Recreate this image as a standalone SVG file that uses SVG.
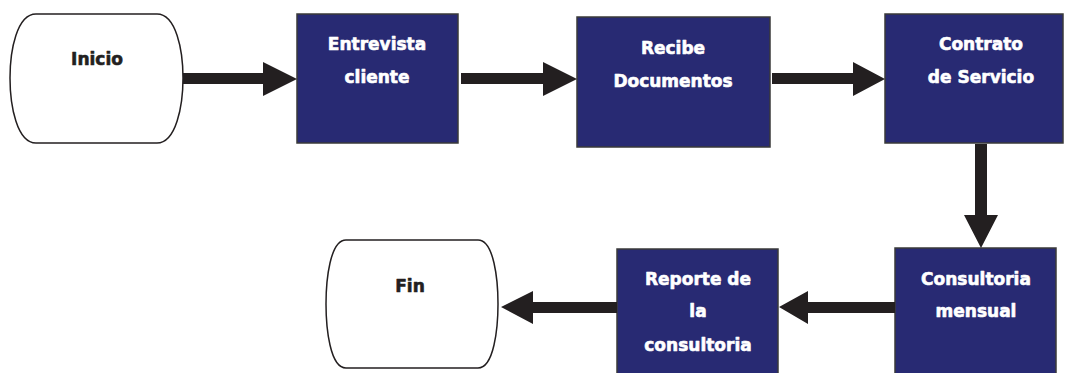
<svg xmlns="http://www.w3.org/2000/svg" width="1065" height="373" viewBox="0 0 1065 373">
<style>
.box{fill:#282a73;stroke:#3a3a3a;stroke-width:1.5}
.term{fill:#fff;stroke:#231f20;stroke-width:1.5}
.arr{fill:#231f20}
text{font-family:"DejaVu Sans","Liberation Sans",sans-serif;font-weight:bold;font-size:17px;text-anchor:middle;stroke-width:0.6;stroke-linejoin:round}
.w{fill:#fff;stroke:#fff}
.k{fill:#231f20;stroke:#231f20}
</style>
<rect width="1065" height="373" fill="#fff"/>
<g id="inicio">
<path class="term" d="M36,14 L157,14 C176,14 183,50 183,78 C183,106 176,143 157,143 L36,143 C17,143 10,106 10,78 C10,50 17,14 36,14 Z"/>
<text class="k" x="97" y="65">Inicio</text>
</g>
<g id="entrevista">
<rect class="box" x="297" y="14" width="161" height="129"/>
<text class="w" x="377" y="50">Entrevista</text>
<text class="w" x="377" y="83">cliente</text>
</g>
<g id="recibe">
<rect class="box" x="577" y="17" width="193" height="130"/>
<text class="w" x="673" y="54">Recibe</text>
<text class="w" x="673" y="87">Documentos</text>
</g>
<g id="contrato">
<rect class="box" x="885" y="14" width="178" height="129"/>
<text class="w" x="981" y="50">Contrato</text>
<text class="w" x="981" y="83">de Servicio</text>
</g>
<g id="consultoria">
<rect class="box" x="895" y="248" width="161" height="135"/>
<text class="w" x="976" y="285">Consultoria</text>
<text class="w" x="976" y="317">mensual</text>
</g>
<g id="reporte">
<rect class="box" x="617" y="249" width="161" height="134"/>
<text class="w" x="698" y="285">Reporte de</text>
<text class="w" x="698" y="317">la</text>
<text class="w" x="698" y="351">consultoria</text>
</g>
<g id="fin">
<path class="term" d="M346,240 L478,240 C494,240 498,280 498,304 C498,328 494,368 478,368 L346,368 C330,368 326,328 326,304 C326,280 330,240 346,240 Z"/>
<text class="k" x="410" y="292">Fin</text>
</g>
<g id="connectors">
<polygon class="arr" points="183,73 263,73 263,62 297,79 263,96 263,84 183,84"/>
<polygon class="arr" points="461,73 543,73 543,62 577,79 543,96 543,84 461,84"/>
<polygon class="arr" points="772,73 853,73 853,62 885,79 853,96 853,84 772,84"/>
<polygon class="arr" points="975,144 987,144 987,215 998,215 981,248 964,215 975,215"/>
<polygon class="arr" points="895,302 808,302 808,291 779,307 808,324 808,313 895,313"/>
<polygon class="arr" points="617,302 533,302 533,291 501,307 533,324 533,313 617,313"/>
</g>
</svg>
